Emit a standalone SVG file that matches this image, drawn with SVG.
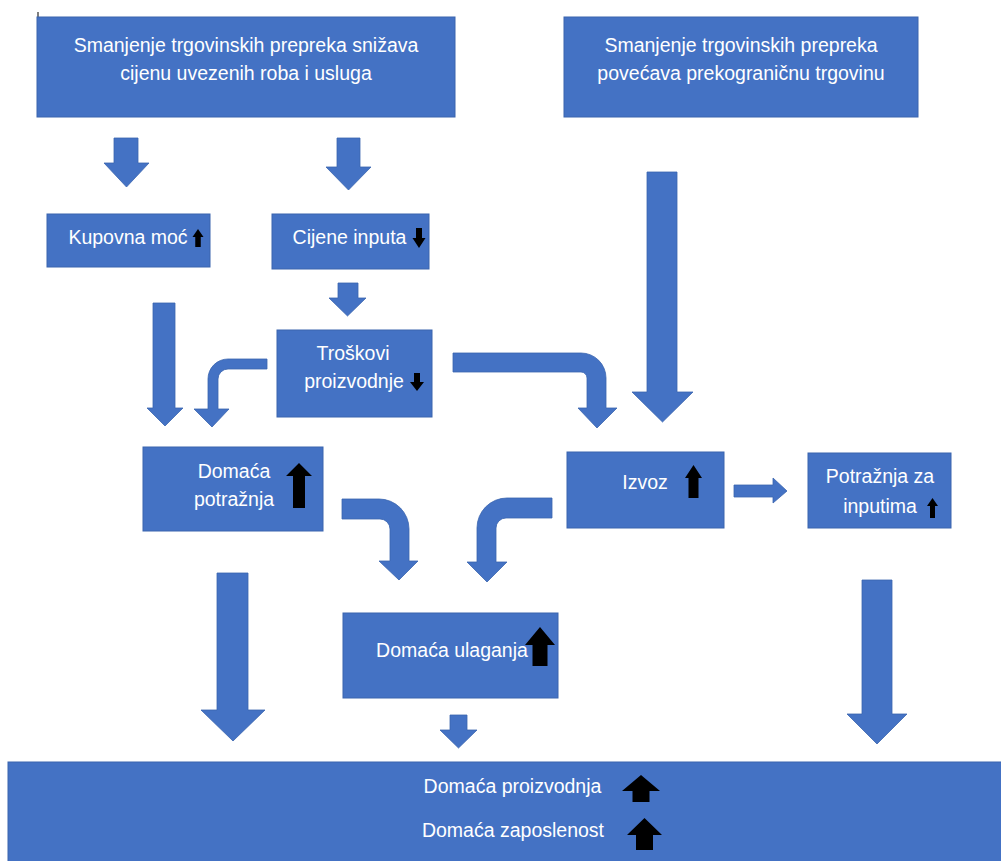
<svg xmlns="http://www.w3.org/2000/svg" width="1001" height="861" viewBox="0 0 1001 861">
<style>
.box{fill:#4472C4;stroke:#3A64AE;stroke-width:1}
.arr{fill:#4472C4;stroke:#3A64AE;stroke-width:0.8}
.blk{fill:#000}
.t{font-family:"Liberation Sans",Arial,sans-serif;font-size:19.5px;fill:#fff;text-anchor:middle}
</style>
<rect width="1001" height="861" fill="#fff"/>
<line x1="38" y1="12" x2="38" y2="38" stroke="#555" stroke-width="1.5"/>
<g id="connectors">
<polygon class="arr" points="114,138 138,138 138,163 149,163 126.5,187 104,163 114,163"/>
<polygon class="arr" points="337,138 360,138 360,167 371,167 348.5,190 326,167 337,167"/>
<polygon class="arr" points="338,283 358,283 358,298 366,298 347.5,316 329,298 338,298"/>
<polygon class="arr" points="153,303 175,303 175,408 183,408 165,426 147,408 153,408"/>
<polygon class="arr" points="647,172 677,172 677,392 693,392 662.5,422 632,392 647,392"/>
<polygon class="arr" points="217,573 248,573 248,710 265,710 233,741 201,710 217,710"/>
<polygon class="arr" points="450,715 467,715 467,730 477,730 458.5,748 440,730 450,730"/>
<polygon class="arr" points="862,580 892,580 892,714 907,714 877,744 847,714 862,714"/>
<polygon class="arr" points="734,485 773,485 773,478 787,491 773,503 773,497 734,497"/>
<path class="arr" d="M267,359 L228,359 A20,20 0 0 0 208,379 L208,409 L194,409 L212,427 L229,409 L218,409 L218,379 A10,10 0 0 1 228,369 L267,369 Z"/>
<path class="arr" d="M453,353 L581,353 A25,25 0 0 1 606,378 L606,408 L617,408 L597,428 L578,408 L587,408 L587,378 A6,6 0 0 0 581,372 L453,372 Z"/>
<path class="arr" d="M342,499 L379,499 A30,30 0 0 1 409,529 L409,561 L418,561 L399,580 L379,561 L390,561 L390,529 A10,10 0 0 0 380,519 L342,519 Z"/>
<path class="arr" d="M552,498 L507,498 A30,30 0 0 0 477,528 L477,562 L467,562 L487,582 L507,562 L496,562 L496,528 A10,10 0 0 1 506,518 L552,518 Z"/>
</g>
<g id="n-snizava">
<rect class="box" x="37" y="17" width="418" height="100"/>
<text class="t" x="246" y="52">Smanjenje trgovinskih prepreka snižava</text>
<text class="t" x="246" y="80">cijenu uvezenih roba i usluga</text>
</g>
<g id="n-povecava">
<rect class="box" x="564" y="17" width="354" height="100"/>
<text class="t" x="741" y="52">Smanjenje trgovinskih prepreka</text>
<text class="t" x="741" y="80">povećava prekograničnu trgovinu</text>
</g>
<g id="n-kupovna">
<rect class="box" x="47" y="214" width="163" height="53"/>
<text class="t" x="128" y="244">Kupovna moć</text>
<polygon class="blk" points="198,229 203.5,237 200.75,237 200.75,247 195.25,247 195.25,237 192.5,237"/>
</g>
<g id="n-cijene">
<rect class="box" x="272" y="214" width="157" height="55"/>
<text class="t" x="349.5" y="244">Cijene inputa</text>
<polygon class="blk" points="416,228 422,228 422,238 425.5,238 419,248 412.5,238 416,238"/>
</g>
<g id="n-troskovi">
<rect class="box" x="277" y="330" width="155" height="87"/>
<text class="t" x="353" y="360">Troškovi</text>
<text class="t" x="354" y="388">proizvodnje</text>
<polygon class="blk" points="414,373 420,373 420,382 424,382 417,391 410,382 414,382"/>
</g>
<g id="n-domaca-potraznja">
<rect class="box" x="143" y="447" width="180" height="84"/>
<text class="t" x="234" y="478">Domaća</text>
<text class="t" x="234" y="506">potražnja</text>
<polygon class="blk" points="299,463 312,476 305,476 305,508 293,508 293,476 286,476"/>
</g>
<g id="n-izvoz">
<rect class="box" x="567" y="452" width="157" height="76"/>
<text class="t" x="645" y="489">Izvoz</text>
<polygon class="blk" points="693.5,465 702,478 698.5,478 698.5,498 688.5,498 688.5,478 685,478"/>
</g>
<g id="n-potraznja-inputi">
<rect class="box" x="808" y="453" width="143" height="75"/>
<text class="t" x="880" y="483">Potražnja za</text>
<text class="t" x="880" y="513">inputima</text>
<polygon class="blk" points="932.5,498 938,506 935,506 935,518 930,518 930,506 927,506"/>
</g>
<g id="n-ulaganja">
<rect class="box" x="343" y="613" width="215" height="85"/>
<text class="t" x="452" y="657">Domaća ulaganja</text>
<polygon class="blk" points="540,627 555,645 547.5,645 547.5,666 532.5,666 532.5,645 525,645"/>
</g>
<g id="n-proizvodnja">
<rect class="box" x="8" y="762" width="1000" height="105"/>
<text class="t" x="512.5" y="793">Domaća proizvodnja</text>
<polygon class="blk" points="641,775 660,791 649.5,791 649.5,802 632.5,802 632.5,791 622,791"/>
<text class="t" x="513" y="837">Domaća zaposlenost</text>
<polygon class="blk" points="644.5,818 662,835 653,835 653,850 636,850 636,835 627,835"/>
</g>
</svg>
